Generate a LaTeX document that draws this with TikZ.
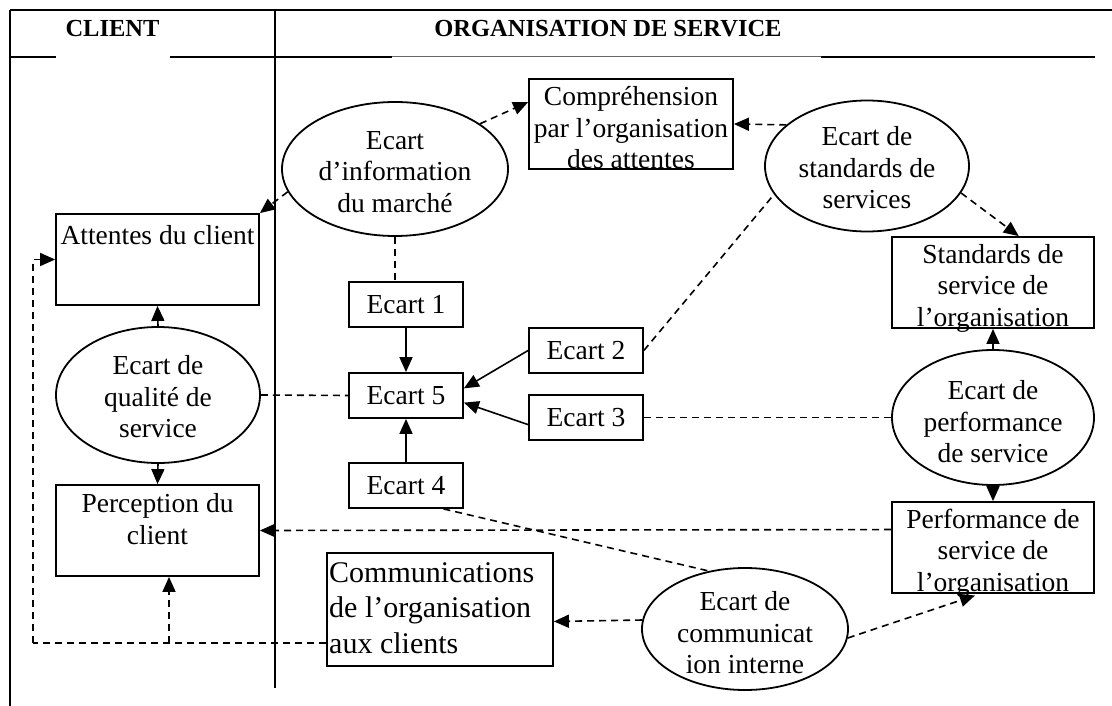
\documentclass[tikz,border=0pt]{standalone}
\usepackage{fontspec}
\setmainfont{Liberation Serif}
\usetikzlibrary{arrows.meta,shapes.geometric}
\begin{document}
\begin{tikzpicture}[x=1pt,y=-1pt,
  box/.style={draw, line width=1.8pt, inner sep=0pt, rectangle},
  oval/.style={draw, line width=1.8pt, ellipse, inner sep=0pt},
  txt/.style={font=\fontsize{27.5}{31.5}\selectfont, align=center, inner sep=0pt},
  bigtxt/.style={font=\fontsize{30}{35.5}\selectfont, align=left, inner sep=0pt},
  head/.style={font=\fontsize{24.5}{28}\selectfont\bfseries, inner sep=0pt},
  con/.style={line width=1.6pt},
  tip/.style={-{Triangle[length=15pt,width=13pt]}},
  arr/.style={con, tip},
  dsh/.style={con, dash pattern=on 7pt off 5pt},
  darr/.style={dsh, tip},
  frame/.style={line width=2pt}]
\useasboundingbox (0,0) rectangle (1112,706);

% frame
\draw[frame] (10,10) -- (1112,10);
\draw[frame] (10,10) -- (10,706);
\draw[frame] (275,10) -- (275,688);
\draw[frame] (10,57) -- (56,57);
\draw[frame] (170,57) -- (392,57);
\draw[frame] (821,57) -- (1095,57);
\draw[line width=1pt, black!60] (392,57) -- (821,57);
\node[head] (hc) at (112.5,29) {CLIENT};
\node[head] (ho) at (608,29) {ORGANISATION DE SERVICE};

% nodes
\node[oval, minimum width=226pt, minimum height=134pt] (info) at (395,169) {};
\node[txt] (infoT) at (395,172) {Ecart\\d’information\\du marché};
\node[box, minimum width=204pt, minimum height=90pt] (compr) at (631,124) {};
\node[txt] (comprT) at (631,128) {Compréhension\\par l’organisation\\des attentes};
\node[oval, minimum width=204pt, minimum height=131pt] (std) at (867,166) {};
\node[txt] (stdT) at (867,168) {Ecart de\\standards de\\services};
\node[box, minimum width=203pt, minimum height=91pt] (att) at (157.5,259.5) {};
\node[txt] (attT) at (157.5,235) {Attentes du client};
\node[box, minimum width=202pt, minimum height=91pt] (stdbox) at (993,282.5) {};
\node[txt] (stdboxT) at (993,288) {Standards de\\service de\\l’organisation};

\node[box, txt, minimum width=114pt, minimum height=45pt] (e1) at (406,304.5) {Ecart 1};
\node[box, txt, minimum width=114pt, minimum height=45pt] (e2) at (586,350.5) {Ecart 2};
\node[box, txt, minimum width=114pt, minimum height=45pt] (e5) at (406,395.5) {Ecart 5};
\node[box, txt, minimum width=114pt, minimum height=45pt] (e3) at (586,417.5) {Ecart 3};
\node[box, txt, minimum width=114pt, minimum height=45pt] (e4) at (406,485.5) {Ecart 4};

\node[oval, minimum width=204pt, minimum height=136pt] (qual) at (158,395) {};
\node[txt] (qualT) at (158,397) {Ecart de\\qualité de\\service};
\node[oval, minimum width=202pt, minimum height=135pt] (perf) at (993,417.5) {};
\node[txt] (perfT) at (993,422) {Ecart de\\performance\\de service};
\node[box, minimum width=203pt, minimum height=91pt] (perc) at (157.5,530.5) {};
\node[txt] (percT) at (157.5,519) {Perception du\\client};
\node[box, minimum width=202pt, minimum height=91pt] (perfbox) at (993,547.5) {};
\node[txt] (perfboxT) at (993,553) {Performance de\\service de\\l’organisation};
\node[box, minimum width=226pt, minimum height=113pt] (comms) at (440,609.5) {};
\node[bigtxt, anchor=west] (commsT) at (329,608) {Communications\\de l’organisation\\aux clients};
\node[oval, minimum width=206pt, minimum height=122pt] (commg) at (745,629) {};
\node[txt] (commgT) at (745,633) {Ecart de\\communicat\\ion interne};

% connectors
\draw[darr] (info.28) -- (compr.168);
\draw[darr] (info.192) -- (att.north east);
\draw[darr] (std.153) -- (compr.east);
\draw[darr] (std.-16) -- (stdbox.61);
\draw[dsh] (info.south) -- (info.south |- e1.north);
\draw[arr] (e1.south) -- (e5.north);
\draw[arr] (e2.west) -- (e5.7);
\draw[arr] (e3.187) -- (e5.353);
\draw[arr] (e4.north) -- (e5.south);
\draw[dsh] (qual.east) -- (e5.west);
\draw[dsh] (e2.east) -- (std.197);
\draw[dsh] (e3.east) -- (perf.west);
\draw[arr] (perf.north) -- (stdbox.south);
\draw[arr] (perf.south) -- (perfbox.north);
\draw[darr] (perfbox.170) -- (perc.east);
\draw[dsh] (e4.328) -- (commg.122);
\draw[darr] (commg.175) -- (comms.354);
\draw[darr, shorten >=5pt] (commg.-5) -- (perfbox.254);
\draw[arr] (qual.north) -- (att.south);
\draw[arr] (qual.south) -- (perc.north);
\coordinate (lc) at (33,643);
\coordinate (lb) at (169,643);
\draw[dsh] (comms.west |- lc) -- (lc);
\draw[darr] (lc) |- (att.west);
\draw[darr] (lb) -- (lb |- perc.south);
\end{tikzpicture}
\end{document}
